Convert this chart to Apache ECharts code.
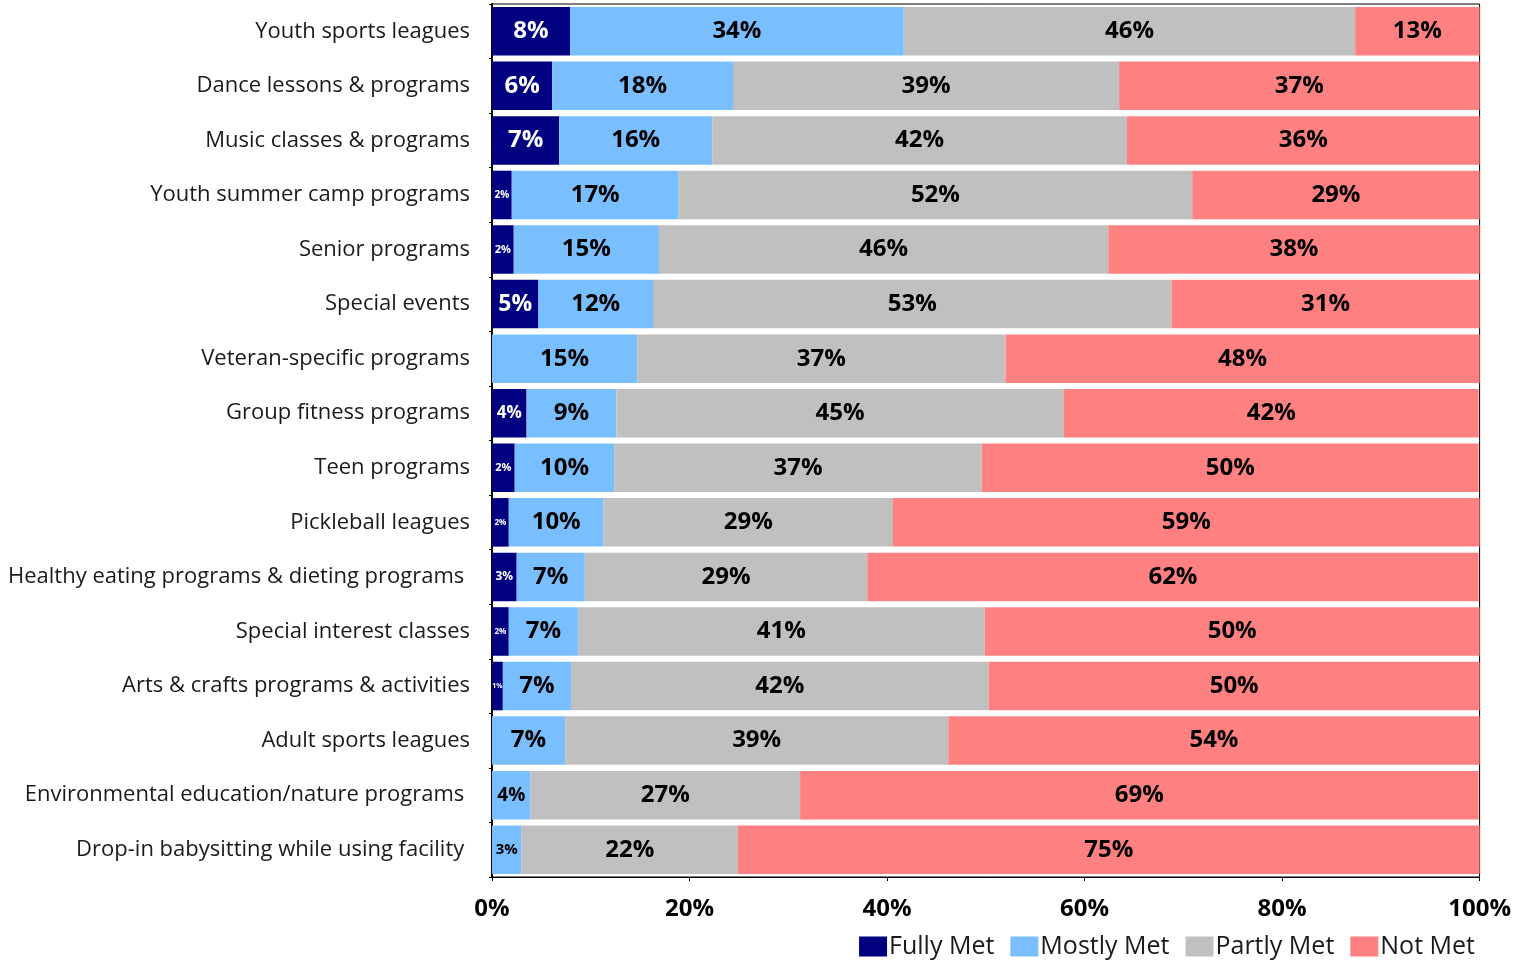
<!DOCTYPE html>
<html>
<head>
<meta charset="utf-8">
<script src="https://cdn.jsdelivr.net/npm/echarts@6/dist/echarts.min.js"></script>
<style>
  html, body { margin: 0; padding: 0; background: #fff; }
  #chart { width: 1514px; height: 961px; }
</style>
</head>
<body>
<div id="chart"></div>
<script>
// Programs, top to bottom
const categories = [
  'Youth sports leagues',
  'Dance lessons & programs',
  'Music classes & programs',
  'Youth summer camp programs',
  'Senior programs',
  'Special events',
  'Veteran-specific programs',
  'Group fitness programs',
  'Teen programs',
  'Pickleball leagues',
  'Healthy eating programs & dieting programs ',
  'Special interest classes',
  'Arts & crafts programs & activities',
  'Adult sports leagues',
  'Environmental education/nature programs ',
  'Drop-in babysitting while using facility '
];

// Share of respondents (%) per level of need met
const fullyMet  = [7.9, 6.1, 6.8, 2.0, 2.2, 4.7, 0,    3.5, 2.3, 1.7, 2.5, 1.7, 1.1, 0,    0,    0];
const mostlyMet = [33.8, 18.3, 15.5, 16.9, 14.7, 11.6, 14.7, 9.1, 10.1, 9.6, 6.9, 7.0, 6.9, 7.4, 3.9, 3.0];
const partlyMet = [45.7, 39.1, 42.0, 52.0, 45.5, 52.5, 37.3, 45.3, 37.2, 29.3, 28.6, 41.2, 42.3, 38.8, 27.3, 21.9];
const notMet    = [12.6, 36.5, 35.7, 29.1, 37.6, 31.2, 48.0, 42.0, 50.3, 59.4, 61.9, 50.1, 49.7, 53.8, 68.7, 75.1];

const xTicks = [0, 20, 40, 60, 80, 100];

const FONT = '"Open Sans", Lato, sans-serif';
const PX_PER_PCT = 988 / 100;

// Segment labels shrink to fit narrow segments
function items(values, color) {
  return values.map(v => {
    const w = v * PX_PER_PCT;
    const fs = Math.max(7, Math.min(24, Math.round(w * 0.5)));
    return {
      value: v,
      label: { show: v > 0, fontSize: fs, color: color }
    };
  });
}

function series(name, values, color, textColor) {
  return {
    name: name,
    type: 'bar',
    stack: 'total',
    barCategoryGap: '11%',
    itemStyle: { color: color },
    label: {
      show: true,
      position: 'inside',
      fontFamily: FONT,
      fontWeight: 'bold',
      color: textColor,
      formatter: p => Math.round(p.value) + '%'
    },
    emphasis: { disabled: true },
    data: items(values, textColor)
  };
}

const chart = echarts.init(document.getElementById('chart'), null, { renderer: 'canvas' });
chart.setOption({
  animation: false,
  grid: {
    left: 492, right: 33, top: 4, bottom: 84,
    show: true, borderColor: '#000', borderWidth: 1, backgroundColor: 'transparent'
  },
  legend: {
    bottom: -3,
    right: 34,
    itemWidth: 28,
    itemHeight: 20,
    itemGap: 16,
    icon: 'rect',
    textStyle: { fontFamily: FONT, fontSize: 25, color: '#1a1a1a', padding: [0, 0, 0, -3] },
    data: ['Fully Met', 'Mostly Met', 'Partly Met', 'Not Met']
  },
  xAxis: {
    type: 'value',
    min: xTicks[0],
    max: xTicks[xTicks.length - 1],
    interval: xTicks[1] - xTicks[0],
    axisLine: { show: true, lineStyle: { color: '#000', width: 1 } },
    axisTick: { show: true, length: 4, lineStyle: { color: '#000' } },
    splitLine: { show: false },
    axisLabel: {
      formatter: '{value}%',
      fontFamily: FONT, fontSize: 24, fontWeight: 'bold', color: '#000',
      margin: 20
    }
  },
  yAxis: {
    type: 'category',
    inverse: true,
    data: categories,
    axisLine: { show: true, lineStyle: { color: '#000', width: 2 } },
    axisTick: { show: true, length: 3, lineStyle: { color: '#000' } },
    axisLabel: {
      fontFamily: FONT, fontSize: 22, color: '#1a1a1a', margin: 22
    }
  },
  series: [
    series('Fully Met', fullyMet, '#000080', '#ffffff'),
    series('Mostly Met', mostlyMet, '#79BFFF', '#000000'),
    series('Partly Met', partlyMet, '#C0C0C0', '#000000'),
    series('Not Met', notMet, '#FF8080', '#000000')
  ]
});
</script>
</body>
</html>
